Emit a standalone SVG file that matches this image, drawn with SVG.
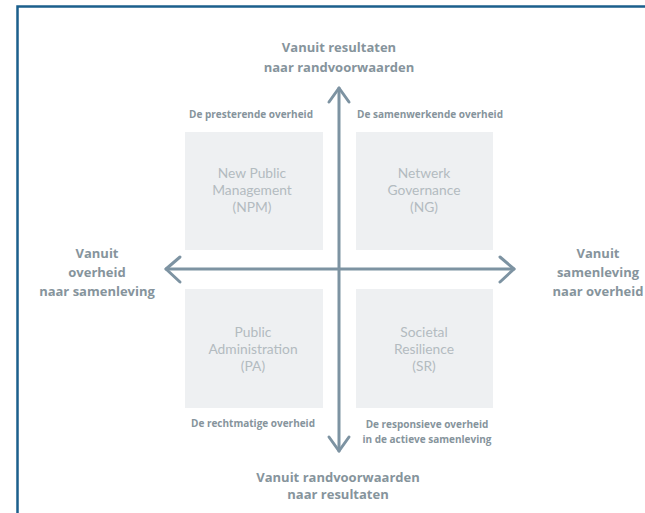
<svg xmlns="http://www.w3.org/2000/svg" width="645" height="513" viewBox="0 0 645 513">
<style>
.frame{fill:none;stroke:#1b5f8c;stroke-width:2.5}
.ax{fill:none;stroke:#7d93a2;stroke-width:3;stroke-linecap:round;stroke-linejoin:round}
.box{fill:#eef0f2}
.lbl{font-family:"Open Sans","Liberation Sans",sans-serif;font-weight:bold;fill:#86949c;text-anchor:middle}
.axl{font-size:13px}
.ql{font-size:10px}
.bt{font-family:Lato,"Liberation Sans",sans-serif;font-size:13.8px;fill:#b3bbc0;text-anchor:middle}
</style>
<rect width="645" height="513" fill="#ffffff"/>
<path class="frame" d="M17.5,513 V6.5 H645"/>
<g id="connectors">
<path class="ax" d="M339,88 V451"/>
<path class="ax" d="M329,102 L339,88 L349,102"/>
<path class="ax" d="M329,437 L339,451 L349,437"/>
<path class="ax" d="M166,269 H514"/>
<path class="ax" d="M180,257 L166,269 L180,282"/>
<path class="ax" d="M500,257 L514,269 L500,282"/>
</g>
<g id="npm">
<rect class="box" x="185" y="132" width="138" height="118"/>
<text class="bt" x="252" y="178">New Public</text>
<text class="bt" x="252" y="195">Management</text>
<text class="bt" x="252" y="212">(NPM)</text>
</g>
<g id="ng">
<rect class="box" x="356" y="132" width="137" height="118"/>
<text class="bt" x="424" y="178">Netwerk</text>
<text class="bt" x="424" y="195">Governance</text>
<text class="bt" x="424" y="212">(NG)</text>
</g>
<g id="pa">
<rect class="box" x="185" y="289" width="138" height="119"/>
<text class="bt" x="253" y="337">Public</text>
<text class="bt" x="253" y="354">Administration</text>
<text class="bt" x="253" y="371">(PA)</text>
</g>
<g id="sr">
<rect class="box" x="356" y="289" width="137" height="119"/>
<text class="bt" x="424" y="337">Societal</text>
<text class="bt" x="424" y="354">Resilience</text>
<text class="bt" x="424" y="371">(SR)</text>
</g>
<g id="top-label">
<text class="lbl axl" x="339" y="52">Vanuit resultaten</text>
<text class="lbl axl" x="339" y="72">naar randvoorwaarden</text>
</g>
<g id="bottom-label">
<text class="lbl axl" x="338" y="482">Vanuit randvoorwaarden</text>
<text class="lbl axl" x="338" y="499">naar resultaten</text>
</g>
<g id="left-label">
<text class="lbl axl" x="97" y="258">Vanuit</text>
<text class="lbl axl" x="97" y="277">overheid</text>
<text class="lbl axl" x="97" y="296">naar samenleving</text>
</g>
<g id="right-label">
<text class="lbl axl" x="598" y="258">Vanuit</text>
<text class="lbl axl" x="598" y="277">samenleving</text>
<text class="lbl axl" x="598" y="296">naar overheid</text>
</g>
<g id="q-npm-label"><text class="lbl ql" x="251" y="118">De presterende overheid</text></g>
<g id="q-ng-label"><text class="lbl ql" x="430" y="118">De samenwerkende overheid</text></g>
<g id="q-pa-label"><text class="lbl ql" x="253" y="427">De rechtmatige overheid</text></g>
<g id="q-sr-label">
<text class="lbl ql" x="427" y="428">De responsieve overheid</text>
<text class="lbl ql" x="427" y="443">in de actieve samenleving</text>
</g>
</svg>
